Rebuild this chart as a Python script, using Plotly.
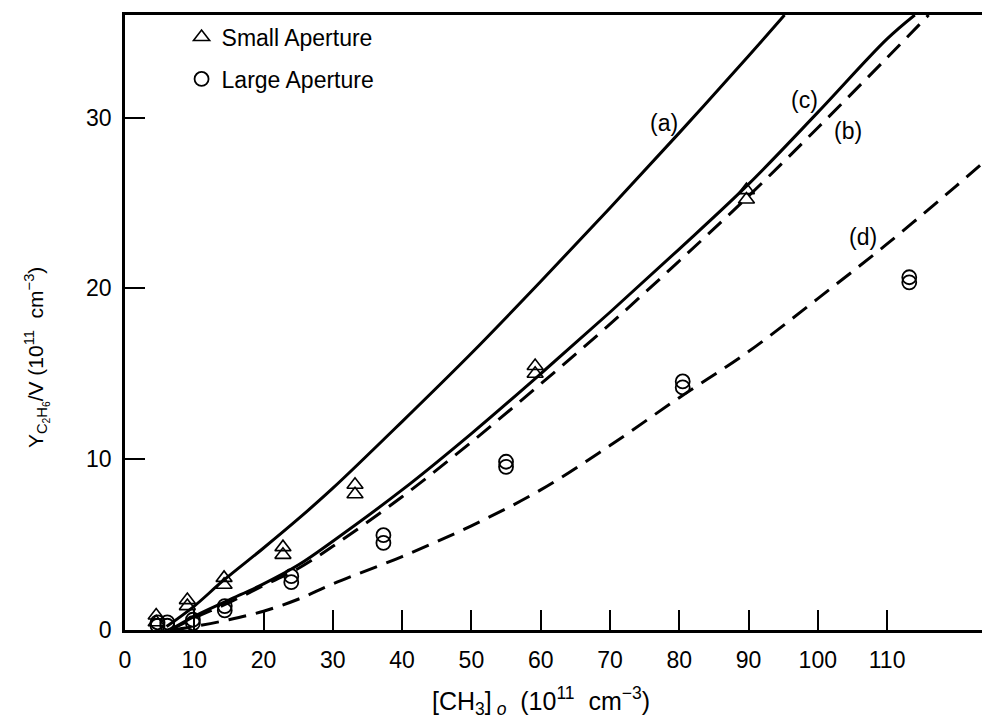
import plotly.graph_objects as go

# ---- data ----
small_x = [4.5, 4.5, 9.0, 9.0, 14.3, 14.3, 22.8, 22.8, 33.2, 33.2, 59.2, 59.2, 89.7, 89.7]
small_y = [0.85, 0.45, 1.75, 1.4, 3.05, 2.65, 4.85, 4.4, 8.5, 7.95, 15.45, 15.0, 25.75, 25.2]

large_x = [4.7, 4.7, 6.1, 6.1, 9.8, 9.8, 14.4, 14.4, 24.0, 24.0, 37.3, 37.3, 55.0, 55.0, 80.5, 80.5, 113.2, 113.2]
large_y = [0.45, 0.25, 0.45, 0.25, 0.6, 0.4, 1.4, 1.15, 3.15, 2.8, 5.55, 5.1, 9.85, 9.55, 14.55, 14.2, 20.65, 20.35]

curve_a_x = [6, 10, 14.2, 20, 25, 30, 40, 50, 60, 70, 80, 90, 95.2]
curve_a_y = [0.2, 1.4, 2.9, 4.8, 6.5, 8.3, 12.2, 16.2, 20.4, 24.7, 29.1, 33.6, 36.0]

curve_c_x = [6.5, 10, 14.7, 20, 25, 30, 40, 50, 60, 70, 80, 90, 100, 110, 114]
curve_c_y = [0.0, 0.8, 1.7, 2.7, 3.8, 5.2, 8.2, 11.5, 15.0, 18.6, 22.3, 26.1, 30.3, 34.6, 36.0]

curve_b_x = [6.5, 10, 15, 20, 25, 30, 40, 50, 60, 70, 80, 90, 100, 110, 116]
curve_b_y = [0.0, 0.7, 1.6, 2.6, 3.6, 4.9, 7.8, 11.0, 14.4, 17.9, 21.6, 25.4, 29.4, 33.5, 36.0]

curve_d_x = [7, 10, 15, 20, 25, 30, 40, 50, 60, 70, 80, 90, 100, 110, 120, 123.7]
curve_d_y = [0.0, 0.2, 0.6, 1.1, 1.8, 2.7, 4.3, 6.1, 8.2, 10.8, 13.6, 16.3, 19.4, 22.6, 26.0, 27.3]

curve_labels = ["(a)", "(c)", "(b)", "(d)"]
label_x = [77.8, 98.1, 104.3, 106.5]
label_y = [29.7, 31.0, 29.2, 23.0]

x_ticks = [0, 10, 20, 30, 40, 50, 60, 70, 80, 90, 100, 110]
y_ticks = [0, 10, 20, 30]

x_title = "[CH<sub>3</sub>]<sub> <i>o</i></sub>  (10<sup>11</sup>  cm<sup>−3</sup>)"
y_title = "Y<sub>C<sub>2</sub>H<sub>6</sub></sub>/V (10<sup>11</sup>  cm<sup>−3</sup>)"

FONT = "Liberation Sans"
FS = 23

fig = go.Figure()

for cx, cy, dash in [(curve_a_x, curve_a_y, "solid"),
                     (curve_c_x, curve_c_y, "solid"),
                     (curve_b_x, curve_b_y, "18px,10px"),
                     (curve_d_x, curve_d_y, "18px,10px")]:
    fig.add_trace(go.Scatter(
        x=cx, y=cy, mode="lines", line_shape="spline",
        line=dict(color="black", width=3, dash=dash),
        showlegend=False, hoverinfo="skip"))

fig.add_trace(go.Scatter(
    x=small_x, y=small_y, mode="markers", name="Small Aperture", legend="legend",
    marker=dict(symbol="triangle-up-open", size=14, color="black", line=dict(width=1.6))))
fig.add_trace(go.Scatter(
    x=large_x, y=large_y, mode="markers", name="Large Aperture", legend="legend2",
    marker=dict(symbol="circle-open", size=14, color="black", line=dict(width=1.8))))

for t, lx, ly in zip(curve_labels, label_x, label_y):
    fig.add_annotation(x=lx, y=ly, text=t, showarrow=False,
                       font=dict(size=FS, color="black", family=FONT))

# axis titles as paper-anchored annotations
fig.add_annotation(xref="paper", yref="paper", x=(541 - 125) / 857, y=(630 - 701) / 615,
                   xanchor="center", yanchor="middle", showarrow=False, text=x_title,
                   font=dict(size=25, color="black", family=FONT))
fig.add_annotation(xref="paper", yref="paper", x=(36 - 125) / 857, y=(630 - 358) / 615,
                   xanchor="center", yanchor="middle", showarrow=False, text=y_title,
                   textangle=-90, font=dict(size=21, color="black", family=FONT))

leg_common = dict(xanchor="left", yanchor="middle", bgcolor="rgba(0,0,0,0)",
                  font=dict(size=FS, family=FONT, color="black"), itemwidth=30)
fig.update_layout(
    width=982, height=726,
    margin=dict(l=125, r=0, t=15, b=96),
    paper_bgcolor="white", plot_bgcolor="white",
    font=dict(family=FONT, color="black", size=FS),
    legend=dict(x=0.066, y=(630 - 37) / 615, **leg_common),
    legend2=dict(x=0.066, y=(630 - 79) / 615, **leg_common),
)

fig.update_xaxes(
    range=[0, 123.7], tickvals=x_ticks, ticktext=[str(v) for v in x_ticks],
    ticks="inside", ticklen=20, tickwidth=2, tickcolor="black",
    showline=True, linecolor="black", linewidth=2.5, mirror=True,
    showgrid=False, zeroline=False, ticklabelstandoff=8,
    tickfont=dict(size=FS, family=FONT),
)
fig.update_yaxes(
    range=[0, 36], tickvals=y_ticks, ticktext=[str(v) for v in y_ticks],
    ticks="inside", ticklen=20, tickwidth=2, tickcolor="black",
    showline=True, linecolor="black", linewidth=2.5, mirror=False,
    showgrid=False, zeroline=False, ticklabelstandoff=6,
    tickfont=dict(size=FS, family=FONT),
)

fig.write_html("out.html")
